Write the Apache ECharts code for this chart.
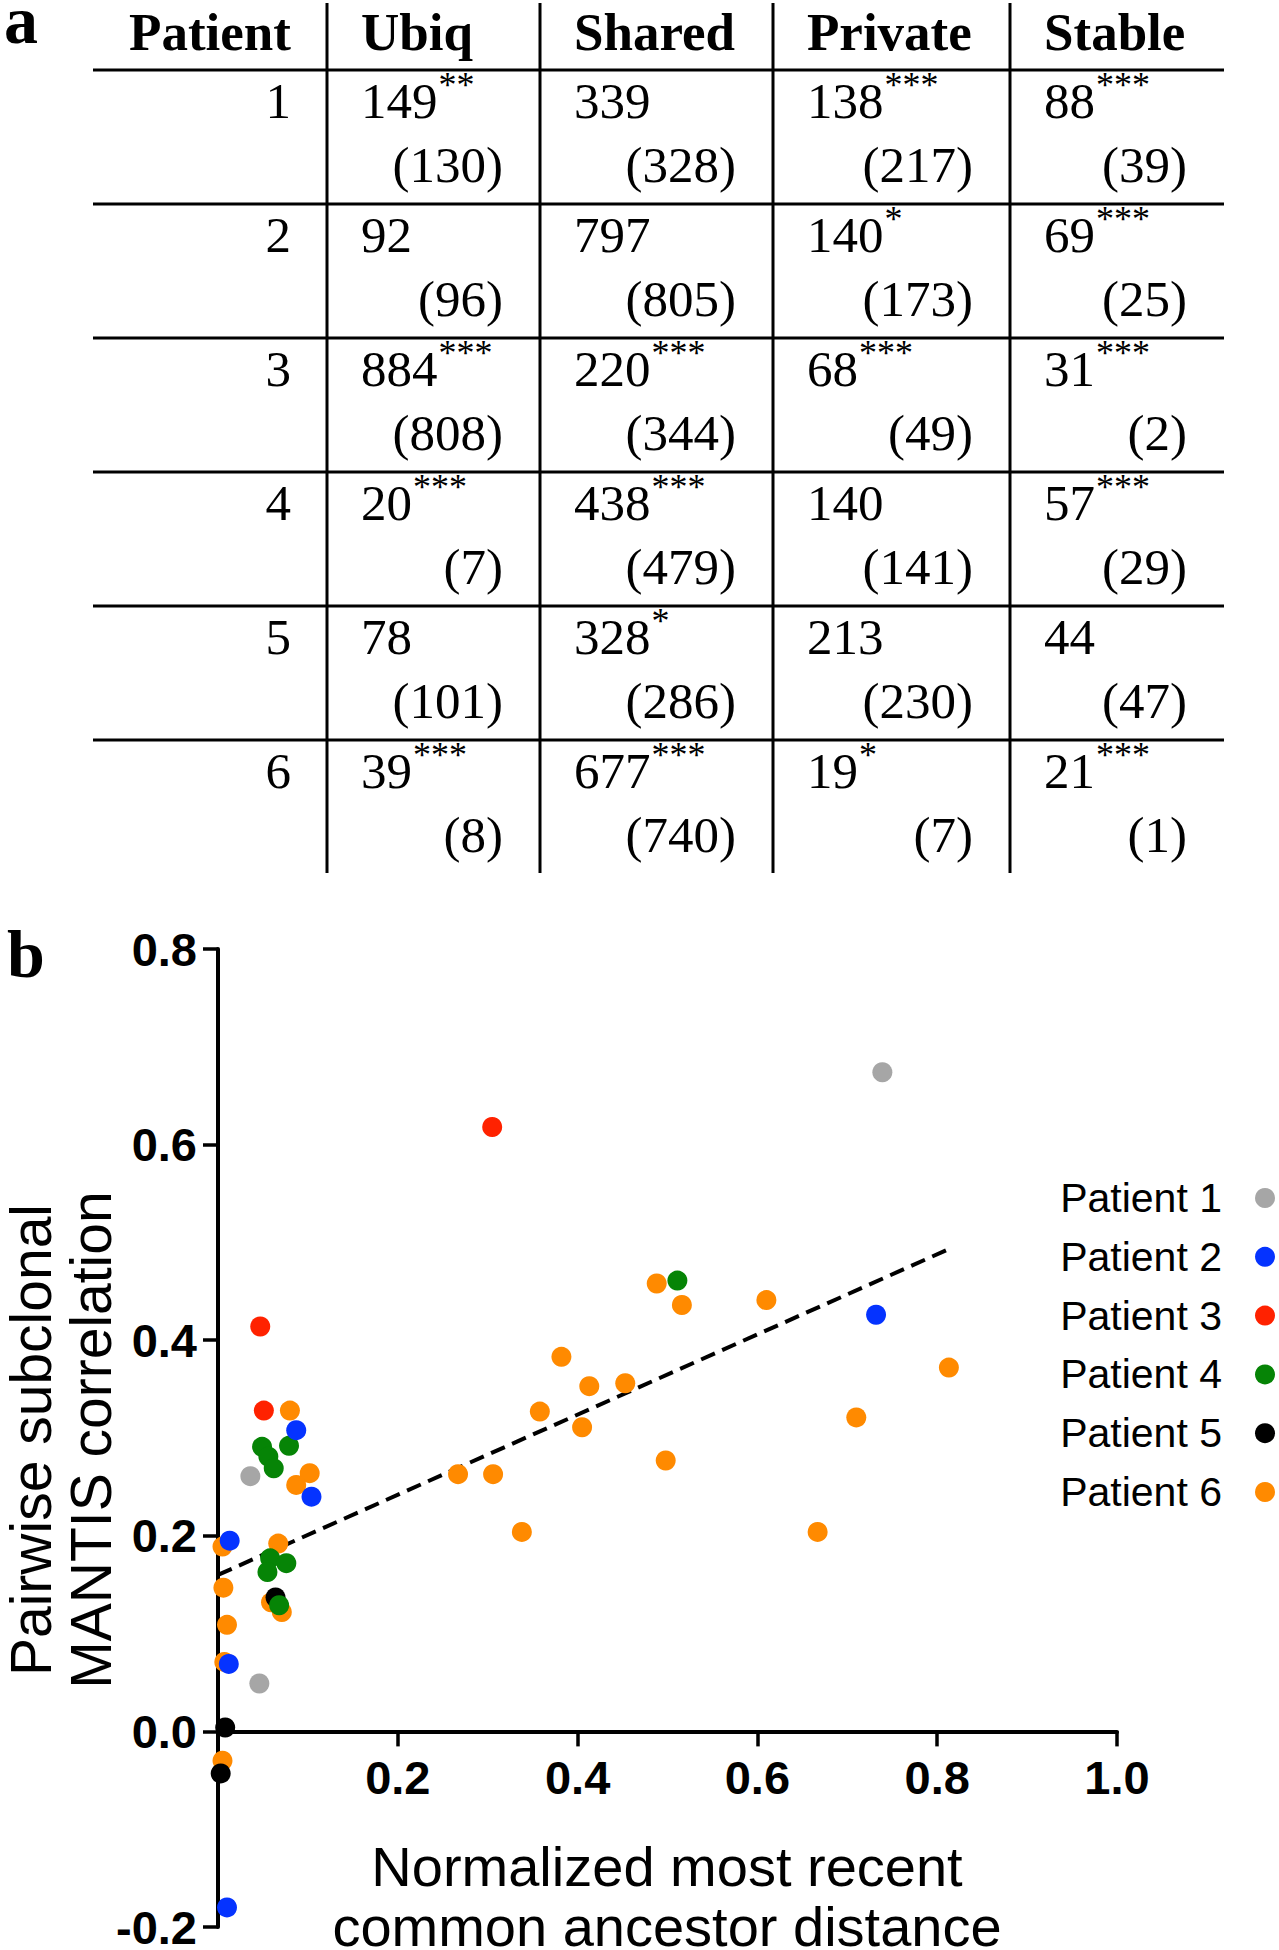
<!DOCTYPE html>
<html>
<head>
<meta charset="utf-8">
<script src="https://cdn.jsdelivr.net/npm/echarts@6/dist/echarts.min.js"></script>
<style>
html,body{margin:0;padding:0;background:#fff;overflow:hidden}
#main{width:1279px;height:1950px}
</style>
</head>
<body>
<div id="main"></div>
<script>
// ---------------- DATA ----------------
// Table (panel a)
const patientIds = ['1', '2', '3', '4', '5', '6'];
const columnNames = ['Ubiq', 'Shared', 'Private', 'Stable'];
const ubiqObserved = [149, 92, 884, 20, 78, 39];
const ubiqExpected = [130, 96, 808, 7, 101, 8];
const ubiqSignif = ['**', '', '***', '***', '', '***'];
const sharedObserved = [339, 797, 220, 438, 328, 677];
const sharedExpected = [328, 805, 344, 479, 286, 740];
const sharedSignif = ['', '', '***', '***', '*', '***'];
const privateObserved = [138, 140, 68, 140, 213, 19];
const privateExpected = [217, 173, 49, 141, 230, 7];
const privateSignif = ['***', '*', '***', '', '', '*'];
const stableObserved = [88, 69, 31, 57, 44, 21];
const stableExpected = [39, 25, 2, 29, 47, 1];
const stableSignif = ['***', '***', '***', '***', '', '***'];

// Scatter (panel b): [normalized MRCA distance, pairwise MANTIS correlation]
const seriesNames = ['Patient 1', 'Patient 2', 'Patient 3', 'Patient 4', 'Patient 5', 'Patient 6'];
const patient1 = [[0.739, 0.674], [0.036, 0.261], [0.046, 0.049]];
const patient2 = [[0.732, 0.426], [0.087, 0.308], [0.104, 0.240], [0.013, 0.195], [0.012, 0.069], [0.010, -0.180]];
const patient3 = [[0.305, 0.618], [0.047, 0.414], [0.051, 0.328]];
const patient4 = [[0.511, 0.461], [0.049, 0.291], [0.056, 0.281], [0.062, 0.269], [0.079, 0.292],
                  [0.058, 0.177], [0.055, 0.163], [0.076, 0.172], [0.068, 0.129]];
const patient5 = [[0.064, 0.137], [0.008, 0.004], [0.003, -0.043]];
const patient6 = [[0.080, 0.328], [0.102, 0.264], [0.087, 0.252], [0.005, 0.189], [0.067, 0.192],
                  [0.006, 0.147], [0.059, 0.132], [0.071, 0.122], [0.010, 0.109], [0.007, 0.071], [0.005, -0.030],
                  [0.488, 0.458], [0.516, 0.436], [0.382, 0.383], [0.413, 0.353], [0.453, 0.356],
                  [0.358, 0.327], [0.405, 0.311], [0.267, 0.263], [0.306, 0.263], [0.338, 0.204], [0.498, 0.277],
                  [0.610, 0.441], [0.710, 0.321], [0.667, 0.204], [0.813, 0.372]];
const fitLineX = [0, 0.815];
const fitLineY = [0.160, 0.494];
const xAxisTitle = ['Normalized most recent', 'common ancestor distance'];
const yAxisTitle = ['Pairwise subclonal', 'MANTIS correlation'];

// ---------------- STYLE / LAYOUT ----------------
const seriesColors = ['#a6a6a6', '#0533ff', '#ff2200', '#068406', '#000000', '#ff8a00'];
const SERIF = '"Liberation Serif", "Times New Roman", serif';
const SANS = '"Liberation Sans", Arial, sans-serif';

const colLines = [327, 540, 773, 1010];
const colRights = [540, 773, 1010, 1224];
const tableLeft = 93, tableRight = 1224;
const firstLineY = 70, rowH = 134;
const vTop = 3, vBottom = 873;
const cellFont = 51, headFont = 53, supFont = 36;

const measureCtx = document.createElement('canvas').getContext('2d');
function textWidth(s, size, weight) {
  measureCtx.font = (weight || 'normal') + ' ' + size + 'px "Liberation Serif"';
  return measureCtx.measureText(s).width;
}

const els = [];
function addText(x, y, s, size, weight, align, family, extra) {
  const el = {
    type: 'text', x: x, y: y, silent: true,
    style: { text: s, fontSize: size, fontFamily: family || SERIF, fontWeight: weight || 'normal',
             fill: '#000', align: align || 'left', verticalAlign: 'middle' }
  };
  if (extra) Object.assign(el, extra);
  els.push(el);
}
function addLine(x1, y1, x2, y2, w) {
  els.push({ type: 'line', silent: true, shape: { x1, y1, x2, y2 }, style: { stroke: '#000', lineWidth: w } });
}

// panel letters
addText(4, 20, 'a', 68, 'bold', 'left');
addText(7, 954, 'b', 68, 'bold', 'left');

// table grid
for (let i = 0; i < patientIds.length; i++) {
  addLine(tableLeft, firstLineY + i * rowH, tableRight, firstLineY + i * rowH, 3.2);
}
colLines.forEach(x => addLine(x, vTop, x, vBottom, 3));

// header
addText(291, 32, 'Patient', headFont, 'bold', 'right');
columnNames.forEach((c, j) => addText(colLines[j] + 34, 32, c, headFont, 'bold', 'left'));

// rows
const obsCols = [ubiqObserved, sharedObserved, privateObserved, stableObserved];
const expCols = [ubiqExpected, sharedExpected, privateExpected, stableExpected];
const sigCols = [ubiqSignif, sharedSignif, privateSignif, stableSignif];
patientIds.forEach((p, i) => {
  const top = firstLineY + i * rowH;
  addText(291, top + 31, p, cellFont, 'normal', 'right');
  for (let j = 0; j < 4; j++) {
    const x = colLines[j] + 34;
    const s = String(obsCols[j][i]);
    addText(x, top + 31, s, cellFont, 'normal', 'left');
    if (sigCols[j][i]) {
      addText(x + textWidth(s, cellFont) + 1, top + 15, sigCols[j][i], supFont, 'normal', 'left');
    }
    addText(colRights[j] - 37, top + 95, '(' + expCols[j][i] + ')', cellFont, 'normal', 'right');
  }
});

// axis titles
addText(667, 1866, xAxisTitle[0], 56, 'normal', 'center', SANS);
addText(667, 1926, xAxisTitle[1], 56, 'normal', 'center', SANS);
addText(31, 1440, yAxisTitle[0], 57, 'normal', 'center', SANS, { rotation: Math.PI / 2 });
addText(91, 1440, yAxisTitle[1], 57, 'normal', 'center', SANS, { rotation: Math.PI / 2 });

// ---------------- CHART ----------------
const patientData = [patient1, patient2, patient3, patient4, patient5, patient6];
const chart = echarts.init(document.getElementById('main'), null, { renderer: 'svg', width: 1279, height: 1950 });

const gridTop = 949, gridH = 978, yMin = -0.2, yMax = 0.8;
const zeroOffset = -(gridH * (0 - yMin) / (yMax - yMin)); // move x axis up to y = 0

const axisLabelStyle = { fontSize: 47, fontWeight: 'bold', fontFamily: SANS, color: '#000' };
const option = {
  animation: false,
  backgroundColor: '#ffffff',
  grid: { left: 218, top: gridTop, width: 899, height: gridH, containLabel: false, outerBoundsMode: 'none' },
  xAxis: {
    type: 'value', min: 0, max: 1, interval: 0.2, position: 'bottom', offset: zeroOffset,
    axisLine: { show: true, onZero: false, lineStyle: { color: '#000', width: 4 } },
    axisTick: { show: true, length: 15, lineStyle: { color: '#000', width: 3.5 } },
    axisLabel: Object.assign({ margin: 23, formatter: v => (Math.abs(v) < 1e-9 ? '' : v.toFixed(1)) }, axisLabelStyle),
    splitLine: { show: false }
  },
  yAxis: {
    type: 'value', min: yMin, max: yMax, interval: 0.2,
    axisLine: { show: true, onZero: false, lineStyle: { color: '#000', width: 4 } },
    axisTick: { show: true, length: 15, lineStyle: { color: '#000', width: 3.5 } },
    axisLabel: Object.assign({ margin: 21, formatter: v => (Math.abs(v) < 1e-9 ? '0.0' : v.toFixed(1)) }, axisLabelStyle),
    splitLine: { show: false }
  },
  legend: {
    data: seriesNames,
    orient: 'vertical', right: 4, top: 1177.5, align: 'right', padding: 0,
    itemWidth: 20, itemHeight: 20, itemGap: 17.8, icon: 'circle', selectedMode: false,
    textStyle: { fontSize: 41, fontFamily: SANS, color: '#000', padding: [0, 28, 0, 0] }
  },
  graphic: { elements: els },
  series: [
    {
      type: 'line', silent: true, z: 1,
      data: fitLineX.map((x, i) => [x, fitLineY[i]]),
      symbol: 'none',
      lineStyle: { color: '#000', width: 4, type: [15, 8] }
    }
  ].concat(patientData.map((d, i) => ({
    type: 'scatter', name: seriesNames[i], data: d, symbol: 'circle', symbolSize: 20,
    z: 10 - i,
    itemStyle: { color: seriesColors[i], opacity: 1 },
    emphasis: { disabled: true }
  })))
};
chart.setOption(option);
</script>
</body>
</html>
